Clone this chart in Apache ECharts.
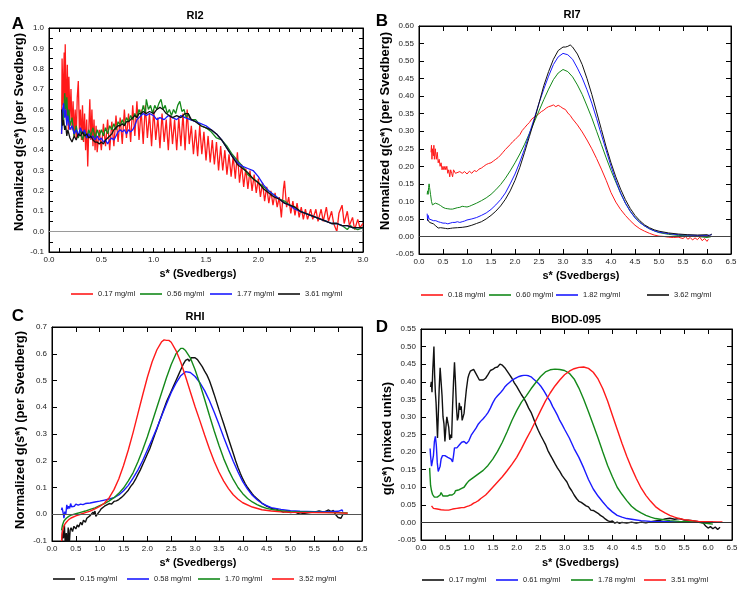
<!DOCTYPE html>
<html>
<head>
<meta charset="utf-8">
<script src="https://cdn.jsdelivr.net/npm/echarts@6/dist/echarts.min.js"></script>
<style>
html,body{margin:0;padding:0;background:#fff;}
#chart{width:748px;height:594px;}
</style>
</head>
<body>
<div id="chart"></div>
<script>
// ---- panel A : RI2 ----
var ri2Labels = ['0.17 mg/ml', '0.56 mg/ml', '1.77 mg/ml', '3.61 mg/ml'];
var ri2Red = [[0.12,0.48],[0.125,0.85],[0.135,0.62],[0.145,0.88],[0.15,0.6],[0.155,0.92],[0.165,0.55],[0.175,0.82],[0.185,0.5],[0.19,0.76],[0.2,0.55],[0.21,0.7],[0.22,0.5],[0.23,0.64],[0.24,0.47],[0.25,0.6],[0.26,0.46],[0.27,0.66],[0.28,0.74],[0.29,0.5],[0.3,0.6],[0.31,0.45],[0.32,0.62],[0.33,0.44],[0.34,0.58],[0.35,0.4],[0.36,0.55],[0.37,0.32],[0.38,0.5],[0.39,0.65],[0.4,0.45],[0.41,0.6],[0.42,0.42],[0.43,0.55],[0.44,0.4],[0.45,0.52],[0.46,0.39],[0.48,0.5],[0.5,0.4],[0.52,0.53],[0.54,0.42],[0.56,0.55],[0.58,0.4],[0.6,0.54],[0.62,0.42],[0.64,0.57],[0.66,0.44],[0.68,0.56],[0.7,0.43],[0.72,0.6],[0.74,0.46],[0.76,0.58],[0.78,0.44],[0.8,0.62],[0.82,0.47],[0.84,0.64],[0.86,0.45],[0.88,0.6],[0.9,0.43],[0.92,0.62],[0.94,0.46],[0.96,0.58],[0.98,0.42],[1.0,0.6],[1.02,0.45],[1.04,0.56],[1.06,0.41],[1.08,0.58],[1.1,0.44],[1.12,0.55],[1.14,0.4],[1.16,0.57],[1.18,0.43],[1.2,0.55],[1.22,0.4],[1.24,0.56],[1.26,0.42],[1.28,0.58],[1.3,0.4],[1.32,0.6],[1.34,0.43],[1.36,0.52],[1.38,0.38],[1.4,0.5],[1.42,0.37],[1.44,0.52],[1.46,0.38],[1.48,0.49],[1.5,0.35],[1.52,0.47],[1.54,0.34],[1.56,0.45],[1.58,0.33],[1.6,0.44],[1.62,0.3],[1.64,0.42],[1.66,0.3],[1.68,0.4],[1.7,0.28],[1.72,0.38],[1.74,0.27],[1.76,0.37],[1.78,0.26],[1.8,0.39],[1.82,0.24],[1.84,0.33],[1.86,0.22],[1.88,0.31],[1.9,0.21],[1.92,0.3],[1.94,0.2],[1.96,0.28],[1.98,0.19],[2.0,0.26],[2.02,0.17],[2.04,0.24],[2.06,0.15],[2.08,0.22],[2.1,0.14],[2.12,0.2],[2.14,0.13],[2.16,0.19],[2.18,0.12],[2.2,0.17],[2.22,0.07],[2.24,0.21],[2.25,0.25],[2.27,0.12],[2.29,0.17],[2.31,0.09],[2.33,0.15],[2.35,0.08],[2.37,0.14],[2.39,0.07],[2.41,0.12],[2.43,0.06],[2.45,0.11],[2.47,0.06],[2.5,0.11],[2.52,0.06],[2.55,0.11],[2.57,0.05],[2.6,0.11],[2.62,0.05],[2.65,0.12],[2.67,0.05],[2.7,0.1],[2.72,0.04],[2.75,0.0],[2.77,0.09],[2.8,0.13],[2.82,0.04],[2.85,0.1],[2.87,0.03],[2.9,0.07],[2.92,0.01],[2.95,0.06],[2.97,0.02],[3.0,0.04]];
var ri2Green = [[0.12,0.5],[0.13,0.6],[0.14,0.55],[0.15,0.68],[0.16,0.6],[0.17,0.66],[0.18,0.55],[0.19,0.6],[0.2,0.52],[0.22,0.56],[0.24,0.47],[0.26,0.52],[0.28,0.46],[0.3,0.5],[0.32,0.45],[0.34,0.49],[0.36,0.46],[0.38,0.5],[0.4,0.47],[0.42,0.51],[0.44,0.46],[0.46,0.5],[0.48,0.47],[0.5,0.5],[0.52,0.47],[0.54,0.51],[0.56,0.48],[0.58,0.52],[0.6,0.5],[0.62,0.53],[0.64,0.5],[0.66,0.54],[0.68,0.52],[0.7,0.55],[0.72,0.52],[0.74,0.56],[0.76,0.54],[0.78,0.57],[0.8,0.55],[0.82,0.58],[0.84,0.56],[0.86,0.6],[0.88,0.57],[0.9,0.62],[0.92,0.58],[0.93,0.65],[0.95,0.6],[0.97,0.62],[0.99,0.58],[1.01,0.62],[1.03,0.6],[1.05,0.63],[1.07,0.65],[1.09,0.6],[1.11,0.62],[1.13,0.58],[1.15,0.6],[1.17,0.57],[1.19,0.6],[1.21,0.58],[1.23,0.62],[1.25,0.64],[1.27,0.59],[1.29,0.6],[1.31,0.56],[1.33,0.58],[1.35,0.55],[1.4,0.55],[1.45,0.52],[1.5,0.51],[1.55,0.49],[1.6,0.46],[1.65,0.45],[1.7,0.42],[1.75,0.38],[1.8,0.35],[1.85,0.32],[1.9,0.28],[1.95,0.26],[2.0,0.24],[2.05,0.22],[2.1,0.2],[2.15,0.18],[2.2,0.16],[2.25,0.15],[2.3,0.13],[2.35,0.12],[2.4,0.1],[2.45,0.09],[2.5,0.08],[2.55,0.07],[2.6,0.06],[2.65,0.05],[2.7,0.04],[2.75,0.04],[2.8,0.03],[2.85,0.01],[2.88,0.03],[2.9,0.02],[2.95,0.01],[3.0,0.02]];
var ri2Blue = [[0.12,0.48],[0.13,0.6],[0.14,0.63],[0.15,0.56],[0.16,0.6],[0.17,0.52],[0.18,0.57],[0.2,0.5],[0.22,0.52],[0.24,0.48],[0.26,0.5],[0.28,0.47],[0.3,0.51],[0.32,0.48],[0.34,0.5],[0.36,0.46],[0.38,0.48],[0.4,0.46],[0.42,0.47],[0.44,0.45],[0.46,0.47],[0.48,0.45],[0.5,0.46],[0.52,0.44],[0.54,0.45],[0.56,0.43],[0.58,0.45],[0.6,0.46],[0.62,0.45],[0.64,0.47],[0.66,0.49],[0.68,0.5],[0.7,0.49],[0.72,0.5],[0.74,0.48],[0.76,0.5],[0.78,0.49],[0.8,0.5],[0.82,0.52],[0.84,0.55],[0.86,0.56],[0.88,0.57],[0.9,0.58],[0.93,0.57],[0.96,0.58],[1.0,0.57],[1.03,0.55],[1.06,0.56],[1.1,0.55],[1.14,0.57],[1.18,0.56],[1.22,0.55],[1.26,0.57],[1.3,0.56],[1.35,0.55],[1.4,0.54],[1.45,0.53],[1.5,0.52],[1.55,0.5],[1.6,0.48],[1.65,0.45],[1.7,0.41],[1.75,0.37],[1.8,0.34],[1.85,0.32],[1.9,0.31],[1.95,0.3],[2.0,0.27],[2.05,0.23],[2.1,0.2],[2.15,0.18],[2.2,0.16],[2.25,0.14],[2.3,0.13],[2.35,0.11],[2.4,0.1],[2.45,0.09],[2.5,0.08],[2.55,0.07],[2.6,0.06],[2.65,0.05],[2.7,0.04],[2.75,0.04],[2.8,0.03],[2.85,0.03],[2.9,0.02],[2.95,0.02],[3.0,0.02]];
var ri2Black = [[0.12,0.6],[0.13,0.52],[0.14,0.55],[0.15,0.5],[0.16,0.52],[0.17,0.47],[0.18,0.5],[0.2,0.46],[0.22,0.44],[0.24,0.47],[0.26,0.45],[0.28,0.48],[0.3,0.47],[0.32,0.49],[0.34,0.47],[0.36,0.48],[0.38,0.46],[0.4,0.47],[0.42,0.45],[0.44,0.44],[0.46,0.44],[0.48,0.43],[0.5,0.44],[0.52,0.43],[0.54,0.45],[0.56,0.46],[0.58,0.47],[0.6,0.48],[0.62,0.5],[0.64,0.51],[0.66,0.52],[0.68,0.52],[0.7,0.53],[0.72,0.52],[0.74,0.54],[0.76,0.54],[0.78,0.55],[0.8,0.56],[0.82,0.57],[0.84,0.56],[0.86,0.58],[0.88,0.58],[0.9,0.59],[0.93,0.58],[0.96,0.59],[1.0,0.58],[1.03,0.6],[1.06,0.61],[1.09,0.6],[1.12,0.58],[1.15,0.57],[1.18,0.56],[1.22,0.57],[1.26,0.56],[1.3,0.58],[1.33,0.58],[1.36,0.55],[1.4,0.54],[1.45,0.52],[1.5,0.51],[1.55,0.5],[1.6,0.48],[1.65,0.45],[1.7,0.41],[1.75,0.37],[1.8,0.33],[1.85,0.31],[1.9,0.29],[1.95,0.26],[2.0,0.24],[2.05,0.21],[2.1,0.19],[2.15,0.17],[2.2,0.16],[2.25,0.14],[2.3,0.13],[2.35,0.12],[2.4,0.1],[2.45,0.09],[2.5,0.08],[2.55,0.07],[2.6,0.06],[2.65,0.05],[2.7,0.04],[2.75,0.04],[2.8,0.03],[2.85,0.03],[2.9,0.02],[2.95,0.02],[3.0,0.02]];

// ---- panel B : RI7 ----
var ri7Labels = ['0.18 mg/ml', '0.60 mg/ml', '1.82 mg/ml', '3.62 mg/ml'];
var ri7Red = [[0.25,0.24],[0.26,0.26],[0.27,0.22],[0.28,0.25],[0.3,0.23],[0.31,0.26],[0.32,0.22],[0.34,0.25],[0.36,0.22],[0.38,0.24],[0.4,0.21],[0.42,0.22],[0.44,0.2],[0.46,0.21],[0.48,0.19],[0.5,0.2],[0.52,0.19],[0.54,0.2],[0.56,0.19],[0.58,0.2],[0.6,0.18],[0.62,0.19],[0.64,0.17],[0.66,0.19],[0.68,0.18],[0.7,0.17],[0.72,0.19],[0.74,0.195],[0.76,0.18],[0.78,0.185],[0.8,0.175],[0.85,0.185],[0.9,0.18],[0.95,0.185],[1.0,0.178],[1.05,0.186],[1.1,0.18],[1.15,0.188],[1.2,0.185],[1.25,0.192],[1.3,0.195],[1.35,0.2],[1.4,0.205],[1.45,0.208],[1.5,0.21],[1.55,0.215],[1.6,0.22],[1.65,0.225],[1.7,0.232],[1.75,0.24],[1.8,0.248],[1.85,0.255],[1.9,0.262],[1.95,0.27],[2.0,0.276],[2.05,0.283],[2.1,0.29],[2.15,0.302],[2.2,0.31],[2.25,0.318],[2.3,0.325],[2.35,0.335],[2.4,0.34],[2.45,0.345],[2.5,0.35],[2.55,0.356],[2.6,0.36],[2.65,0.366],[2.7,0.37],[2.75,0.372],[2.8,0.375],[2.85,0.37],[2.9,0.374],[2.95,0.37],[3.0,0.365],[3.05,0.362],[3.1,0.352],[3.15,0.345],[3.2,0.335],[3.3,0.318],[3.4,0.298],[3.5,0.275],[3.6,0.25],[3.7,0.222],[3.8,0.192],[3.9,0.16],[4.0,0.125],[4.1,0.098],[4.2,0.077],[4.3,0.06],[4.4,0.045],[4.5,0.032],[4.6,0.022],[4.7,0.015],[4.8,0.009],[4.9,0.004],[5.0,0.001],[5.1,0.0],[5.2,-0.002],[5.3,-0.003],[5.4,-0.002],[5.5,-0.006],[5.55,0.0],[5.6,-0.008],[5.65,-0.003],[5.7,-0.01],[5.75,-0.004],[5.8,-0.009],[5.85,-0.002],[5.9,-0.012],[5.95,-0.006],[6.0,-0.014],[6.03,-0.008]];
var ri7Green = [[0.17,0.12],[0.18,0.13],[0.19,0.12],[0.2,0.14],[0.21,0.15],[0.22,0.14],[0.24,0.12],[0.26,0.1],[0.28,0.09],[0.3,0.085],[0.32,0.09],[0.34,0.095],[0.36,0.1],[0.38,0.098],[0.4,0.092],[0.45,0.088],[0.5,0.083],[0.55,0.08],[0.6,0.079],[0.65,0.078],[0.7,0.078],[0.75,0.08],[0.8,0.082],[0.85,0.083],[0.9,0.086],[0.95,0.085],[1.0,0.084],[1.05,0.086],[1.1,0.089],[1.2,0.095],[1.3,0.102],[1.4,0.11],[1.5,0.12],[1.6,0.133],[1.7,0.148],[1.8,0.166],[1.9,0.187],[2.0,0.21],[2.1,0.235],[2.2,0.263],[2.3,0.294],[2.4,0.326],[2.5,0.358],[2.6,0.39],[2.7,0.42],[2.8,0.447],[2.9,0.466],[3.0,0.476],[3.1,0.47],[3.2,0.455],[3.3,0.432],[3.4,0.405],[3.5,0.372],[3.6,0.338],[3.7,0.3],[3.8,0.262],[3.9,0.224],[4.0,0.188],[4.1,0.155],[4.2,0.123],[4.3,0.095],[4.4,0.072],[4.5,0.054],[4.6,0.04],[4.7,0.03],[4.8,0.022],[4.9,0.016],[5.0,0.011],[5.2,0.006],[5.4,0.003],[5.6,0.002],[5.8,0.0],[6.0,-0.003],[6.08,-0.001]];
var ri7Blue = [[0.17,0.065],[0.18,0.045],[0.19,0.06],[0.2,0.065],[0.21,0.05],[0.23,0.055],[0.25,0.05],[0.3,0.045],[0.35,0.045],[0.4,0.042],[0.45,0.04],[0.5,0.038],[0.55,0.038],[0.6,0.036],[0.65,0.038],[0.7,0.04],[0.75,0.04],[0.8,0.042],[0.85,0.04],[0.9,0.042],[0.95,0.044],[1.0,0.047],[1.1,0.05],[1.2,0.054],[1.3,0.06],[1.4,0.067],[1.5,0.077],[1.6,0.09],[1.7,0.105],[1.8,0.124],[1.9,0.15],[2.0,0.178],[2.1,0.212],[2.2,0.25],[2.3,0.293],[2.4,0.336],[2.5,0.38],[2.6,0.42],[2.7,0.457],[2.8,0.49],[2.9,0.512],[3.0,0.522],[3.1,0.518],[3.2,0.505],[3.3,0.48],[3.4,0.452],[3.5,0.418],[3.6,0.38],[3.7,0.336],[3.8,0.29],[3.9,0.245],[4.0,0.2],[4.1,0.16],[4.2,0.124],[4.3,0.095],[4.4,0.072],[4.5,0.053],[4.6,0.04],[4.7,0.03],[4.8,0.022],[4.9,0.016],[5.0,0.012],[5.2,0.008],[5.4,0.005],[5.6,0.004],[5.8,0.003],[6.0,0.003],[6.1,0.005]];
var ri7Black = [[0.17,0.05],[0.18,0.045],[0.2,0.048],[0.22,0.04],[0.25,0.042],[0.3,0.036],[0.35,0.03],[0.4,0.024],[0.45,0.025],[0.5,0.024],[0.55,0.023],[0.6,0.022],[0.65,0.023],[0.7,0.024],[0.8,0.025],[0.9,0.026],[1.0,0.028],[1.1,0.032],[1.2,0.037],[1.3,0.042],[1.4,0.05],[1.5,0.06],[1.6,0.072],[1.7,0.087],[1.8,0.106],[1.9,0.13],[2.0,0.16],[2.1,0.197],[2.2,0.24],[2.3,0.285],[2.4,0.33],[2.5,0.38],[2.6,0.43],[2.7,0.47],[2.8,0.505],[2.9,0.53],[3.0,0.54],[3.05,0.54],[3.1,0.542],[3.15,0.546],[3.2,0.54],[3.3,0.52],[3.4,0.49],[3.5,0.45],[3.6,0.405],[3.7,0.355],[3.8,0.305],[3.9,0.255],[4.0,0.21],[4.1,0.17],[4.2,0.135],[4.3,0.105],[4.4,0.08],[4.5,0.06],[4.6,0.045],[4.7,0.033],[4.8,0.025],[4.9,0.019],[5.0,0.015],[5.2,0.01],[5.4,0.007],[5.6,0.005],[5.8,0.004],[6.0,0.005],[6.05,0.002],[6.1,0.007]];

// ---- panel C : RHI ----
var rhiLabels = ['0.15 mg/ml', '0.58 mg/ml', '1.70 mg/ml', '3.52 mg/ml'];
var rhiBlack = [[0.2,-0.12],[0.22,-0.06],[0.24,-0.09],[0.26,-0.04],[0.28,-0.12],[0.3,-0.07],[0.32,-0.12],[0.34,-0.05],[0.36,-0.12],[0.38,-0.06],[0.4,-0.05],[0.43,-0.065],[0.46,-0.045],[0.5,-0.055],[0.53,-0.04],[0.56,-0.048],[0.6,-0.03],[0.63,-0.04],[0.66,-0.022],[0.7,-0.03],[0.73,-0.015],[0.76,-0.022],[0.8,-0.005],[0.83,-0.012],[0.86,0.008],[0.88,0.0],[0.9,0.012],[0.92,-0.008],[0.94,-0.012],[0.96,0.002],[0.98,-0.004],[1.0,0.012],[1.03,0.02],[1.06,0.018],[1.1,0.03],[1.15,0.035],[1.2,0.04],[1.25,0.038],[1.3,0.048],[1.35,0.05],[1.4,0.055],[1.45,0.062],[1.5,0.07],[1.55,0.08],[1.6,0.09],[1.65,0.104],[1.7,0.115],[1.75,0.13],[1.8,0.148],[1.85,0.165],[1.9,0.185],[1.95,0.205],[2.0,0.225],[2.05,0.245],[2.1,0.27],[2.15,0.295],[2.2,0.32],[2.25,0.345],[2.3,0.37],[2.35,0.395],[2.4,0.42],[2.45,0.44],[2.5,0.46],[2.55,0.48],[2.6,0.5],[2.65,0.52],[2.7,0.54],[2.75,0.56],[2.8,0.575],[2.85,0.58],[2.88,0.572],[2.92,0.585],[2.96,0.59],[3.0,0.585],[3.05,0.578],[3.1,0.565],[3.15,0.552],[3.2,0.535],[3.25,0.52],[3.3,0.5],[3.35,0.475],[3.4,0.448],[3.45,0.42],[3.5,0.392],[3.55,0.365],[3.6,0.338],[3.65,0.31],[3.7,0.282],[3.75,0.255],[3.8,0.228],[3.85,0.2],[3.9,0.175],[3.95,0.152],[4.0,0.132],[4.05,0.115],[4.1,0.1],[4.15,0.088],[4.2,0.076],[4.25,0.066],[4.3,0.058],[4.35,0.05],[4.4,0.042],[4.45,0.036],[4.5,0.03],[4.55,0.027],[4.6,0.022],[4.65,0.02],[4.7,0.021],[4.75,0.014],[4.8,0.012],[4.85,0.008],[4.9,0.01],[5.0,0.006],[5.1,0.008],[5.2,0.0],[5.3,0.004],[5.4,0.006],[5.5,0.008],[5.6,0.012],[5.7,0.008],[5.8,0.016],[5.85,0.01],[5.9,0.014],[5.95,-0.002],[6.0,-0.012],[6.03,-0.005],[6.06,-0.015],[6.1,0.0]];
var rhiBlue = [[0.2,0.015],[0.21,0.025],[0.22,0.018],[0.24,0.0],[0.25,-0.015],[0.27,0.01],[0.29,0.0],[0.31,0.035],[0.33,0.02],[0.35,0.03],[0.37,0.022],[0.39,0.04],[0.41,0.028],[0.44,0.035],[0.47,0.03],[0.5,0.038],[0.55,0.034],[0.6,0.038],[0.65,0.036],[0.7,0.04],[0.8,0.042],[0.9,0.046],[1.0,0.049],[1.1,0.053],[1.2,0.057],[1.3,0.062],[1.4,0.072],[1.5,0.088],[1.6,0.108],[1.7,0.135],[1.8,0.165],[1.9,0.2],[2.0,0.24],[2.1,0.28],[2.2,0.322],[2.3,0.368],[2.4,0.412],[2.5,0.455],[2.6,0.49],[2.7,0.518],[2.8,0.533],[2.9,0.53],[3.0,0.515],[3.1,0.492],[3.2,0.462],[3.3,0.425],[3.4,0.382],[3.5,0.336],[3.6,0.288],[3.7,0.242],[3.8,0.198],[3.9,0.158],[4.0,0.122],[4.1,0.094],[4.2,0.071],[4.3,0.054],[4.4,0.041],[4.5,0.032],[4.6,0.025],[4.8,0.018],[5.0,0.013],[5.2,0.011],[5.5,0.01],[5.8,0.01],[6.0,0.011],[6.08,0.016],[6.1,0.01]];
var rhiGreen = [[0.2,-0.06],[0.22,-0.04],[0.25,-0.025],[0.3,-0.015],[0.35,-0.008],[0.4,-0.003],[0.5,0.002],[0.6,0.007],[0.7,0.012],[0.8,0.018],[0.9,0.024],[1.0,0.032],[1.1,0.04],[1.2,0.05],[1.3,0.062],[1.4,0.078],[1.5,0.098],[1.6,0.125],[1.7,0.155],[1.8,0.195],[1.9,0.24],[2.0,0.29],[2.1,0.345],[2.2,0.4],[2.3,0.455],[2.4,0.51],[2.5,0.56],[2.6,0.6],[2.7,0.62],[2.75,0.62],[2.8,0.612],[2.9,0.585],[3.0,0.54],[3.1,0.488],[3.2,0.43],[3.3,0.37],[3.4,0.312],[3.5,0.258],[3.6,0.208],[3.7,0.166],[3.8,0.13],[3.9,0.1],[4.0,0.077],[4.1,0.059],[4.2,0.046],[4.3,0.036],[4.4,0.028],[4.5,0.022],[4.6,0.018],[4.8,0.013],[5.0,0.01],[5.5,0.008],[6.0,0.006],[6.2,0.005]];
var rhiRed = [[0.2,-0.1],[0.21,-0.075],[0.23,-0.055],[0.26,-0.04],[0.3,-0.03],[0.35,-0.02],[0.4,-0.014],[0.5,-0.006],[0.6,0.0],[0.7,0.006],[0.8,0.012],[0.9,0.02],[1.0,0.029],[1.1,0.042],[1.2,0.062],[1.3,0.092],[1.4,0.132],[1.5,0.182],[1.6,0.24],[1.7,0.305],[1.8,0.375],[1.9,0.445],[2.0,0.512],[2.1,0.57],[2.2,0.615],[2.3,0.645],[2.35,0.652],[2.4,0.65],[2.45,0.65],[2.5,0.643],[2.6,0.612],[2.7,0.568],[2.8,0.515],[2.9,0.458],[3.0,0.402],[3.1,0.35],[3.2,0.296],[3.3,0.245],[3.4,0.198],[3.5,0.158],[3.6,0.124],[3.7,0.096],[3.8,0.073],[3.9,0.056],[4.0,0.043],[4.2,0.027],[4.4,0.017],[4.6,0.012],[4.8,0.009],[5.0,0.007],[5.5,0.006],[6.0,0.005],[6.2,0.004]];

// ---- panel D : BIOD-095 ----
var biodLabels = ['0.17 mg/ml', '0.61 mg/ml', '1.78 mg/ml', '3.51 mg/ml'];
var biodBlack = [[0.2,0.385],[0.215,0.4],[0.23,0.37],[0.245,0.43],[0.26,0.47],[0.27,0.5],[0.285,0.42],[0.3,0.37],[0.315,0.34],[0.33,0.29],[0.345,0.24],[0.36,0.3],[0.38,0.38],[0.4,0.44],[0.42,0.4],[0.44,0.36],[0.46,0.3],[0.48,0.28],[0.5,0.23],[0.52,0.27],[0.54,0.3],[0.56,0.305],[0.58,0.27],[0.6,0.235],[0.62,0.25],[0.64,0.24],[0.66,0.33],[0.68,0.4],[0.7,0.455],[0.72,0.4],[0.74,0.33],[0.76,0.29],[0.78,0.3],[0.8,0.34],[0.82,0.32],[0.84,0.33],[0.86,0.29],[0.88,0.3],[0.9,0.31],[0.92,0.34],[0.95,0.38],[0.98,0.41],[1.0,0.42],[1.03,0.43],[1.06,0.425],[1.1,0.435],[1.14,0.425],[1.18,0.42],[1.22,0.405],[1.26,0.4],[1.3,0.405],[1.35,0.41],[1.4,0.42],[1.45,0.432],[1.5,0.435],[1.55,0.44],[1.6,0.442],[1.65,0.45],[1.7,0.447],[1.75,0.44],[1.8,0.43],[1.85,0.42],[1.9,0.41],[1.95,0.397],[2.0,0.387],[2.05,0.375],[2.1,0.363],[2.15,0.353],[2.2,0.34],[2.25,0.325],[2.3,0.313],[2.35,0.296],[2.4,0.278],[2.45,0.262],[2.5,0.248],[2.55,0.235],[2.6,0.222],[2.65,0.205],[2.7,0.192],[2.75,0.18],[2.8,0.167],[2.85,0.155],[2.9,0.145],[2.95,0.133],[3.0,0.124],[3.05,0.115],[3.1,0.1],[3.15,0.09],[3.2,0.078],[3.25,0.068],[3.3,0.06],[3.35,0.057],[3.4,0.052],[3.45,0.047],[3.5,0.044],[3.55,0.035],[3.6,0.034],[3.65,0.03],[3.7,0.026],[3.75,0.02],[3.8,0.016],[3.85,0.01],[3.9,0.005],[3.95,0.002],[4.0,0.004],[4.05,-0.002],[4.1,0.001],[4.15,-0.003],[4.2,0.0],[4.3,-0.002],[4.4,0.001],[4.5,-0.002],[4.6,0.001],[4.7,-0.001],[4.8,0.002],[4.9,0.004],[5.0,0.006],[5.1,0.01],[5.2,0.012],[5.3,0.009],[5.4,0.011],[5.5,0.007],[5.6,0.006],[5.7,0.004],[5.8,0.002],[5.9,-0.002],[5.95,-0.01],[6.0,-0.016],[6.05,-0.012],[6.1,-0.018],[6.15,-0.013],[6.2,-0.02],[6.25,-0.014]];
var biodBlue = [[0.19,0.21],[0.2,0.19],[0.22,0.16],[0.24,0.155],[0.26,0.19],[0.28,0.23],[0.3,0.245],[0.32,0.22],[0.34,0.17],[0.36,0.145],[0.38,0.14],[0.4,0.16],[0.42,0.18],[0.45,0.19],[0.48,0.195],[0.5,0.19],[0.53,0.195],[0.56,0.185],[0.6,0.185],[0.63,0.18],[0.66,0.172],[0.68,0.19],[0.7,0.212],[0.72,0.215],[0.75,0.212],[0.8,0.22],[0.85,0.228],[0.9,0.23],[0.95,0.224],[1.0,0.232],[1.05,0.248],[1.1,0.258],[1.15,0.268],[1.2,0.28],[1.25,0.288],[1.3,0.295],[1.35,0.303],[1.4,0.312],[1.45,0.325],[1.5,0.34],[1.55,0.352],[1.6,0.36],[1.65,0.367],[1.7,0.375],[1.75,0.385],[1.8,0.392],[1.85,0.398],[1.9,0.404],[1.95,0.408],[2.0,0.412],[2.05,0.415],[2.1,0.417],[2.15,0.418],[2.2,0.418],[2.25,0.417],[2.3,0.414],[2.35,0.408],[2.4,0.402],[2.45,0.396],[2.5,0.388],[2.55,0.378],[2.6,0.367],[2.65,0.355],[2.7,0.345],[2.75,0.33],[2.8,0.318],[2.85,0.305],[2.9,0.29],[2.95,0.278],[3.0,0.265],[3.1,0.24],[3.2,0.21],[3.3,0.185],[3.4,0.155],[3.5,0.122],[3.6,0.095],[3.7,0.075],[3.8,0.058],[3.9,0.042],[4.0,0.03],[4.1,0.02],[4.2,0.015],[4.3,0.011],[4.4,0.009],[4.5,0.007],[4.6,0.005],[4.8,0.003],[5.0,0.002],[5.2,0.002],[5.4,0.001],[5.6,0.0],[5.8,0.0],[6.0,0.0],[6.1,0.002]];
var biodGreen = [[0.18,0.155],[0.19,0.13],[0.2,0.105],[0.22,0.09],[0.24,0.08],[0.26,0.075],[0.28,0.072],[0.3,0.068],[0.32,0.07],[0.34,0.072],[0.36,0.07],[0.38,0.075],[0.4,0.078],[0.42,0.085],[0.44,0.08],[0.46,0.075],[0.5,0.077],[0.55,0.075],[0.6,0.078],[0.65,0.078],[0.7,0.083],[0.72,0.09],[0.75,0.095],[0.8,0.093],[0.85,0.097],[0.9,0.1],[0.95,0.11],[1.0,0.118],[1.05,0.123],[1.1,0.128],[1.15,0.133],[1.2,0.138],[1.3,0.148],[1.4,0.162],[1.5,0.18],[1.6,0.202],[1.7,0.228],[1.8,0.258],[1.9,0.29],[2.0,0.318],[2.1,0.342],[2.2,0.36],[2.3,0.38],[2.4,0.398],[2.5,0.415],[2.6,0.428],[2.7,0.434],[2.8,0.436],[2.9,0.435],[3.0,0.432],[3.1,0.424],[3.2,0.408],[3.3,0.382],[3.4,0.35],[3.5,0.315],[3.6,0.278],[3.7,0.24],[3.8,0.2],[3.9,0.162],[4.0,0.13],[4.1,0.1],[4.2,0.08],[4.3,0.062],[4.4,0.046],[4.5,0.035],[4.6,0.027],[4.7,0.02],[4.8,0.015],[4.9,0.011],[5.0,0.009],[5.2,0.005],[5.4,0.003],[5.6,0.002],[5.8,0.0],[6.0,-0.003],[6.1,-0.005]];
var biodRed = [[0.22,0.047],[0.24,0.042],[0.26,0.04],[0.3,0.04],[0.34,0.038],[0.38,0.04],[0.42,0.036],[0.46,0.038],[0.5,0.035],[0.54,0.032],[0.58,0.035],[0.62,0.034],[0.66,0.038],[0.7,0.038],[0.75,0.04],[0.8,0.041],[0.85,0.042],[0.9,0.042],[0.95,0.045],[1.0,0.047],[1.05,0.05],[1.1,0.055],[1.15,0.058],[1.2,0.062],[1.25,0.068],[1.3,0.073],[1.35,0.078],[1.4,0.085],[1.5,0.1],[1.6,0.115],[1.7,0.13],[1.8,0.147],[1.9,0.165],[2.0,0.185],[2.1,0.21],[2.2,0.237],[2.3,0.262],[2.4,0.29],[2.5,0.318],[2.6,0.345],[2.7,0.368],[2.8,0.388],[2.9,0.405],[3.0,0.42],[3.1,0.43],[3.2,0.437],[3.3,0.441],[3.4,0.442],[3.5,0.438],[3.6,0.427],[3.7,0.408],[3.8,0.38],[3.9,0.345],[4.0,0.305],[4.1,0.265],[4.2,0.225],[4.3,0.188],[4.4,0.155],[4.5,0.125],[4.6,0.098],[4.7,0.077],[4.8,0.06],[4.9,0.045],[5.0,0.035],[5.1,0.027],[5.2,0.02],[5.3,0.015],[5.4,0.011],[5.5,0.008],[5.6,0.006],[5.8,0.003],[6.0,0.002],[6.2,0.001],[6.3,0.001]];

var RED = '#ff1a1a', GREEN = '#14891a', BLUE = '#1a1aff', BLACK = '#111111';
var FONT = '"Liberation Sans", Arial, sans-serif';

var panels = [
  {id: 'A', title: 'RI2', letterPos: [18, 24], titlePos: [195, 16],
   grid: {left: 49, top: 28, width: 314, height: 224},
   xMax: 3.0, xMinor: 5, yMin: -0.1, yMax: 1.0, yStep: 0.1, yMinor: 2, yDigits: 1, tick: 4,
   yName: 'Normalized g(s*) (per Svedberg)', yGap: 23, yPad: [0, 0, 0, 16], xGap: 16, xPad: [0, 16, 0, 0],
   width: 1.3, zero: '#9a9a9a',
   labels: ri2Labels, colors: [RED, GREEN, BLUE, BLACK], data: [ri2Red, ri2Green, ri2Blue, ri2Black],
   legendX: [71, 140, 210, 278], legendY: 290},
  {id: 'B', title: 'RI7', letterPos: [382, 21], titlePos: [572, 15],
   grid: {left: 419, top: 26, width: 312, height: 228},
   xMax: 6.5, xMinor: 0, yMin: -0.05, yMax: 0.6, yStep: 0.05, yMinor: 0, yDigits: 2, tick: 5,
   yName: 'Normalized g(s*) (per Svedberg)', yGap: 23, yPad: [0, 0, 0, 18], xGap: 16, xPad: [0, 0, 0, 12],
   width: 1, zero: '#444',
   labels: ri7Labels, colors: [RED, GREEN, BLUE, BLACK], data: [ri7Red, ri7Green, ri7Blue, ri7Black],
   legendX: [421, 489, 556, 647], legendY: 291},
  {id: 'C', title: 'RHI', letterPos: [18, 316], titlePos: [195, 317],
   grid: {left: 52, top: 327, width: 310, height: 214},
   xMax: 6.5, xMinor: 0, yMin: -0.1, yMax: 0.7, yStep: 0.1, yMinor: 0, yDigits: 1, tick: 5,
   yName: 'Normalized g(s*) (per Svedberg)', yGap: 25, yPad: [0, 0, 0, 8], xGap: 16, xPad: [0, 18, 0, 0],
   width: 1.4, zero: '#555',
   labels: rhiLabels, colors: [BLACK, BLUE, GREEN, RED], data: [rhiBlack, rhiBlue, rhiGreen, rhiRed],
   legendX: [53, 127, 198, 272], legendY: 575},
  {id: 'D', title: 'BIOD-095', letterPos: [382, 327], titlePos: [576, 320],
   grid: {left: 421, top: 329, width: 311, height: 211},
   xMax: 6.5, xMinor: 0, yMin: -0.05, yMax: 0.55, yStep: 0.05, yMinor: 0, yDigits: 2, tick: 5,
   yName: 'g(s*) (mixed units)', yGap: 21, yPad: [0, 8, 0, 0], xGap: 17, xPad: [0, 0, 0, 8],
   width: 1.4, zero: '#333',
   labels: biodLabels, colors: [BLACK, BLUE, GREEN, RED], data: [biodBlack, biodBlue, biodGreen, biodRed],
   legendX: [422, 496, 571, 644], legendY: 576}
];

var chart = echarts.init(document.getElementById('chart'));
var option = {animation: false, backgroundColor: '#fff', grid: [], xAxis: [], yAxis: [], series: [], legend: [], graphic: []};

function legendName(n) { return n.split('|')[1]; }

panels.forEach(function (p, i) {
  option.grid.push({left: p.grid.left, top: p.grid.top, width: p.grid.width, height: p.grid.height,
    show: true, borderColor: '#000', borderWidth: 1, containLabel: false});

  var tick = {show: true, inside: true, length: p.tick, lineStyle: {color: '#000', width: 1}};
  var axisLine = {show: true, onZero: false, lineStyle: {color: '#000', width: 1}};
  var xMinor = {show: p.xMinor > 0, splitNumber: p.xMinor || 5, length: p.tick, lineStyle: {color: '#000', width: 1}};
  var yMinor = {show: p.yMinor > 0, splitNumber: p.yMinor || 5, length: p.tick, lineStyle: {color: '#000', width: 1}};
  var labelStyle = {fontSize: 8, color: '#222', fontFamily: FONT};

  option.xAxis.push({type: 'value', gridIndex: i, position: 'bottom', min: 0, max: p.xMax, interval: 0.5,
    name: 's* (Svedbergs)', nameLocation: 'middle', nameGap: p.xGap,
    nameTextStyle: {fontFamily: FONT, fontWeight: 'bold', fontSize: 11, color: '#000', padding: p.xPad},
    axisLine: axisLine, axisTick: tick, minorTick: xMinor, splitLine: {show: false},
    axisLabel: Object.assign({margin: 4, formatter: function (v) { return v.toFixed(1); }}, labelStyle)});
  option.xAxis.push({type: 'value', gridIndex: i, position: 'top', min: 0, max: p.xMax, interval: 0.5,
    axisLine: axisLine, axisTick: tick, minorTick: xMinor, splitLine: {show: false}, axisLabel: {show: false}});

  option.yAxis.push({type: 'value', gridIndex: i, position: 'left', min: p.yMin, max: p.yMax, interval: p.yStep,
    name: p.yName, nameLocation: 'middle', nameGap: p.yGap,
    nameTextStyle: {fontFamily: FONT, fontWeight: 'bold', fontSize: 13, color: '#000', padding: p.yPad},
    axisLine: axisLine, axisTick: tick, minorTick: yMinor, splitLine: {show: false},
    axisLabel: Object.assign({margin: 5, formatter: function (v) { return v.toFixed(p.yDigits); }}, labelStyle)});
  option.yAxis.push({type: 'value', gridIndex: i, position: 'right', min: p.yMin, max: p.yMax, interval: p.yStep,
    axisLine: axisLine, axisTick: tick, minorTick: yMinor, splitLine: {show: false}, axisLabel: {show: false}});

  p.data.forEach(function (arr, k) {
    var s = {type: 'line', name: p.id + '|' + p.labels[k], xAxisIndex: 2 * i, yAxisIndex: 2 * i,
      data: arr, symbol: 'none', showSymbol: false, silent: true, clip: true,
      lineStyle: {color: p.colors[k], width: p.width}, itemStyle: {color: p.colors[k]},
      emphasis: {disabled: true}};
    if (k === 0) {
      s.markLine = {silent: true, symbol: ['none', 'none'], label: {show: false},
        lineStyle: {color: p.zero, width: 1, type: 'solid'}, emphasis: {disabled: true},
        data: [{yAxis: 0}]};
    }
    option.series.push(s);

    option.legend.push({data: [p.id + '|' + p.labels[k]], left: p.legendX[k], top: p.legendY,
      padding: 0, icon: 'rect', itemWidth: 22, itemHeight: 1.6, selectedMode: false, formatter: legendName,
      textStyle: {fontSize: 7.5, color: '#222', fontFamily: FONT}});
  });

  option.graphic.push({type: 'text', silent: true, x: p.letterPos[0], y: p.letterPos[1],
    style: {text: p.id, font: 'bold 17px ' + FONT, fill: '#000', textAlign: 'center', textVerticalAlign: 'middle'}});
  option.graphic.push({type: 'text', silent: true, x: p.titlePos[0], y: p.titlePos[1],
    style: {text: p.title, font: 'bold 11px ' + FONT, fill: '#000', textAlign: 'center', textVerticalAlign: 'middle'}});
});

chart.setOption(option);
</script>
</body>
</html>
